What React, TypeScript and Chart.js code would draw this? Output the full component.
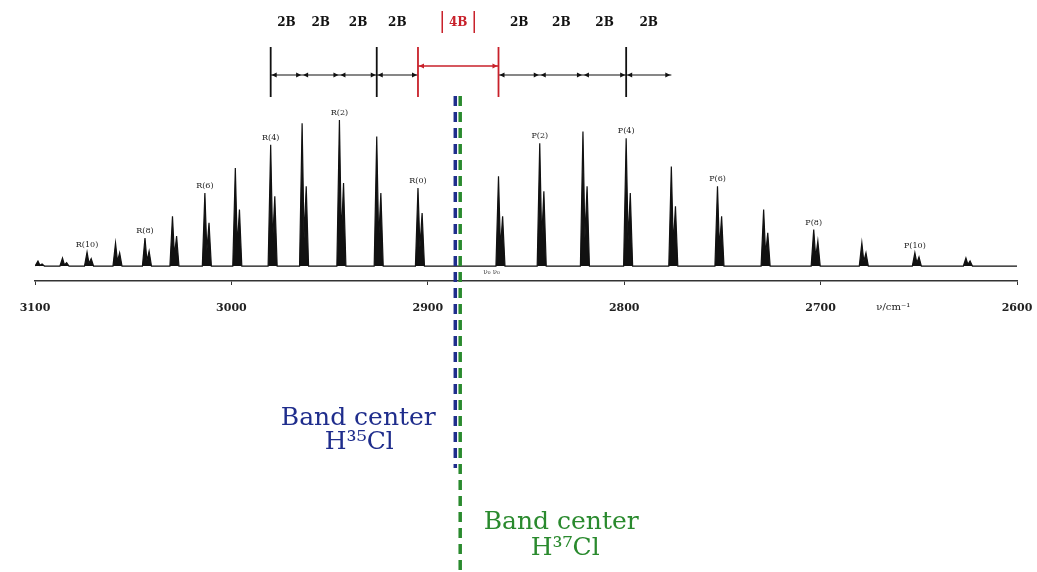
import { useEffect, useRef } from "react";
import { Chart, registerables } from "chart.js";

Chart.register(...registerables);

// R branch (J = 0 .. 12), wavenumbers in cm^-1
const rBranchLabels = ["R(0)", "R(1)", "R(2)", "R(3)", "R(4)", "R(5)", "R(6)", "R(7)", "R(8)", "R(9)", "R(10)", "R(11)", "R(12)"];
const rBranchWavenumbers = [2905, 2926, 2945, 2964, 2980, 2998, 3013.5, 3030, 3044, 3059, 3073.5, 3086, 3098.5];
const rBranchH35 = [0.47, 0.78, 0.88, 0.86, 0.73, 0.59, 0.44, 0.3, 0.169, 0.139, 0.084, 0.048, 0.03];
const rBranchH37 = [0.32, 0.44, 0.5, 0.48, 0.42, 0.34, 0.26, 0.18, 0.09, 0.08, 0.045, 0.02, 0.012];

// P branch (J = 1 .. 11)
const pBranchLabels = ["P(1)", "P(2)", "P(3)", "P(4)", "P(5)", "P(6)", "P(7)", "P(8)", "P(9)", "P(10)", "P(11)"];
const pBranchWavenumbers = [2864, 2843, 2821, 2799, 2776, 2752.5, 2729, 2703.5, 2679, 2652, 2626];
const pBranchH35 = [0.54, 0.74, 0.81, 0.77, 0.6, 0.48, 0.34, 0.22, 0.14, 0.08, 0.048];
const pBranchH37 = [0.3, 0.45, 0.48, 0.44, 0.36, 0.3, 0.2, 0.15, 0.08, 0.055, 0.03];

const labeledLines = ["R(0)", "R(2)", "R(4)", "R(6)", "R(8)", "R(10)", "P(2)", "P(4)", "P(6)", "P(8)", "P(10)"];
const isotopeShift = 2.1;

const xTickValues = [3100, 3000, 2900, 2800, 2700, 2600];
const xAxisTitle = "ν/cm⁻¹";

// spacing annotation above the spectrum
const leftSpacingLines = ["R(4)", "R(3)", "R(2)", "R(1)", "R(0)"];
const rightSpacingLines = ["P(1)", "P(2)", "P(3)", "P(4)", "P(5)"];
const tallBarLines = ["R(4)", "R(1)", "P(4)"];
const spacingLabel = "2B";
const centerGapLabel = "4B";

const bandCenterH35 = 2886;
const bandCenterH37 = 2883.5;
const bandCenterText = "Band center";
const h35Text = "H³⁵Cl";
const h37Text = "H³⁷Cl";
const originLabel = "ν₀ ν₀";

const allLabels = [...rBranchLabels, ...pBranchLabels];
const allNu = [...rBranchWavenumbers, ...pBranchWavenumbers];
const allH35 = [...rBranchH35, ...pBranchH35];
const allH37 = [...rBranchH37, ...pBranchH37];
const nuOf = (lbl: string) => allNu[allLabels.indexOf(lbl)];

function buildSpectrum() {
  const peaks = allNu.map((nu, i) => ({ nu, h35: allH35[i], h37: allH37[i] }));
  peaks.sort((a, b) => b.nu - a.nu);
  const pts: { x: number; y: number }[] = [{ x: 3100, y: 0 }];
  for (const p of peaks) {
    pts.push({ x: p.nu + 1.3, y: 0 });
    pts.push({ x: p.nu, y: p.h35 });
    pts.push({ x: p.nu - 1.0, y: p.h37 * 0.35 });
    pts.push({ x: p.nu - isotopeShift, y: p.h37 });
    pts.push({ x: p.nu - isotopeShift - 1.2, y: 0 });
  }
  pts.push({ x: 2600, y: 0 });
  return pts;
}

const overlayPlugin = {
  id: "overlay",
  afterDraw(chart: any) {
    const ctx = chart.ctx as CanvasRenderingContext2D;
    const xs = chart.scales.x;
    const ys = chart.scales.y;
    const px = (v: number) => xs.getPixelForValue(v);
    const py = (v: number) => ys.getPixelForValue(v);
    ctx.save();

    // peak labels
    ctx.fillStyle = "#222";
    ctx.font = "8px 'DejaVu Serif'";
    ctx.textAlign = "center";
    ctx.textBaseline = "bottom";
    for (const lbl of labeledLines) {
      const i = allLabels.indexOf(lbl);
      ctx.fillText(lbl, px(allNu[i]), py(allH35[i]) - 3);
    }

    // origin label
    ctx.font = "7px 'DejaVu Serif'";
    ctx.fillStyle = "#444";
    ctx.textBaseline = "middle";
    ctx.fillText(originLabel, px(2870) + 5, ys.bottom - 9);

    // axis title
    ctx.font = "10px 'DejaVu Serif'";
    ctx.fillStyle = "#222";
    ctx.fillText(xAxisTitle, px(2663), xs.top + 26);

    // spacing annotation
    const yLine = 75, barTop = 47, barBot = 97, yRed = 66, yLbl = 23;
    const arrow = (x: number, y: number, dir: number, color: string) => {
      ctx.fillStyle = color;
      ctx.beginPath();
      ctx.moveTo(x, y);
      ctx.lineTo(x - dir * 5, y - 2.5);
      ctx.lineTo(x - dir * 5, y + 2.5);
      ctx.closePath();
      ctx.fill();
    };
    const drawSegmentGroup = (lines: string[]) => {
      const xsPix = lines.map((l) => px(nuOf(l)));
      ctx.strokeStyle = "#111";
      ctx.lineWidth = 1.2;
      ctx.beginPath();
      ctx.moveTo(Math.min(...xsPix), yLine);
      ctx.lineTo(Math.max(...xsPix), yLine);
      ctx.stroke();
      for (let k = 0; k < xsPix.length - 1; k++) {
        const a = Math.min(xsPix[k], xsPix[k + 1]);
        const b = Math.max(xsPix[k], xsPix[k + 1]);
        arrow(a + 1, yLine, -1, "#111");
        arrow(b - 1, yLine, 1, "#111");
        ctx.fillStyle = "#111";
        ctx.font = "bold 12px 'DejaVu Serif'";
        ctx.textAlign = "center";
        ctx.textBaseline = "middle";
        ctx.fillText(spacingLabel, (a + b) / 2, yLbl);
      }
    };
    drawSegmentGroup(leftSpacingLines);
    drawSegmentGroup(rightSpacingLines);

    ctx.strokeStyle = "#111";
    ctx.lineWidth = 1.8;
    for (const l of tallBarLines) {
      const x = px(nuOf(l));
      ctx.beginPath();
      ctx.moveTo(x, barTop);
      ctx.lineTo(x, barBot);
      ctx.stroke();
    }
    const red = "#c8202a";
    const xr0 = px(nuOf("R(0)"));
    const xp1 = px(nuOf("P(1)"));
    ctx.strokeStyle = red;
    ctx.lineWidth = 1.8;
    for (const x of [xr0, xp1]) {
      ctx.beginPath();
      ctx.moveTo(x, barTop);
      ctx.lineTo(x, barBot);
      ctx.stroke();
    }
    ctx.lineWidth = 1.5;
    ctx.beginPath();
    ctx.moveTo(xr0, yRed);
    ctx.lineTo(xp1, yRed);
    ctx.stroke();
    arrow(xr0 + 1, yRed, -1, red);
    arrow(xp1 - 1, yRed, 1, red);
    const xm = (xr0 + xp1) / 2;
    ctx.fillStyle = red;
    ctx.font = "bold 12px 'DejaVu Serif'";
    ctx.textAlign = "center";
    ctx.textBaseline = "middle";
    ctx.fillText(centerGapLabel, xm, yLbl);
    ctx.lineWidth = 1.5;
    for (const dx of [-16, 16]) {
      ctx.beginPath();
      ctx.moveTo(xm + dx, 11);
      ctx.lineTo(xm + dx, 33);
      ctx.stroke();
    }

    // band centre dashed lines
    const blue = "#1f2d8c";
    const green = "#2a8a2e";
    const xb = px(bandCenterH35);
    const xg = px(bandCenterH37);
    ctx.setLineDash([10, 6]);
    ctx.lineWidth = 3.5;
    ctx.strokeStyle = blue;
    ctx.beginPath();
    ctx.moveTo(xb, 96);
    ctx.lineTo(xb, 468);
    ctx.stroke();
    ctx.strokeStyle = green;
    ctx.beginPath();
    ctx.moveTo(xg, 96);
    ctx.lineTo(xg, 572);
    ctx.stroke();
    ctx.setLineDash([]);

    ctx.font = "25px 'DejaVu Serif'";
    ctx.textAlign = "center";
    ctx.textBaseline = "middle";
    ctx.fillStyle = blue;
    ctx.fillText(bandCenterText, xb - 97, 418);
    ctx.fillText(h35Text, xb - 96, 442);
    ctx.fillStyle = green;
    ctx.fillText(bandCenterText, xg + 101, 522);
    ctx.fillText(h37Text, xg + 105, 548);

    ctx.restore();
  },
};

export default function App() {
  const ref = useRef<HTMLCanvasElement | null>(null);
  useEffect(() => {
    if (!ref.current) return;
    const chart = new Chart(ref.current, {
      type: "line",
      data: {
        datasets: [
          {
            data: buildSpectrum(),
            borderColor: "#111",
            backgroundColor: "#111",
            borderWidth: 1.2,
            pointRadius: 0,
            tension: 0,
            fill: { value: 0 },
          },
        ],
      },
      options: {
        animation: false,
        responsive: true,
        maintainAspectRatio: false,
        layout: { padding: { top: 100, left: 35, right: 20, bottom: 0 } },
        plugins: { legend: { display: false }, tooltip: { enabled: false } },
        scales: {
          x: {
            type: "linear",
            min: 2600,
            max: 3100,
            reverse: true,
            afterBuildTicks: (s: any) => {
              s.ticks = xTickValues.map((v) => ({ value: v }));
            },
            afterFit: (s: any) => {
              s.height = 572 - 281;
              s.paddingLeft = 0;
              s.paddingRight = 0;
            },
            grid: { drawOnChartArea: false, drawTicks: true, tickLength: 4, color: "#333", lineWidth: 1 },
            border: { display: true, color: "#333", width: 1.5 },
            ticks: {
              color: "#222",
              font: { family: "'DejaVu Serif'", size: 11, weight: "bold" },
              padding: 17,
              maxRotation: 0,
              autoSkip: false,
              callback: (v: any) => String(v),
            },
          },
          y: { display: false, min: -0.09, max: 1 },
        },
      },
      plugins: [overlayPlugin],
    } as any);
    return () => chart.destroy();
  }, []);
  return (
    <div style={{ position: "absolute", left: 0, top: 0, width: 1037, height: 572, background: "#fff" }}>
      <canvas ref={ref} />
    </div>
  );
}
